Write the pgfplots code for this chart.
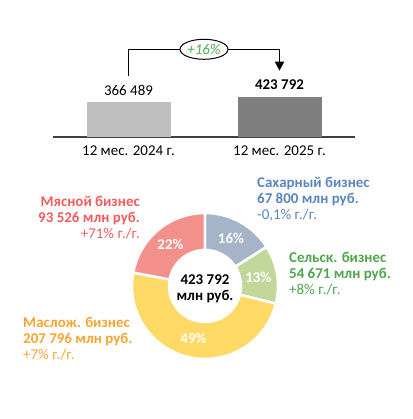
\documentclass[border=0pt]{standalone}
\usepackage{pgfplots}
\pgfplotsset{compat=1.18}
\usepackage{pgfplotstable}
\usetikzlibrary{arrows.meta,shapes.geometric}
\usepackage{fontspec}
\setmainfont{Carlito}
\definecolor{barA}{HTML}{BFBFBF}
\definecolor{barB}{HTML}{7F7F7F}
\definecolor{cSugar}{HTML}{A6B4C9}
\definecolor{cAgro}{HTML}{C4D79B}
\definecolor{cOil}{HTML}{FFD966}
\definecolor{cMeat}{HTML}{F4908C}
\definecolor{tSugar}{HTML}{5A86BE}
\definecolor{tAgro}{HTML}{4EA64A}
\definecolor{tOil}{HTML}{F7A531}
\definecolor{tMeat}{HTML}{F25C5C}
\definecolor{gGreen}{HTML}{4CB050}

\pgfplotstableread{
value pct
67800 16
54671 13
207796 49
93526 22
}\donutdata

\newcommand\fs{\fontsize{15}{17}\selectfont}
\begin{document}
\begin{tikzpicture}
\useasboundingbox (0,0) rectangle (413bp,419bp);
% donut angles from the data
\pgfplotstablegetelem{0}{value}\of\donutdata \let\vA\pgfplotsretval
\pgfplotstablegetelem{1}{value}\of\donutdata \let\vB\pgfplotsretval
\pgfplotstablegetelem{2}{value}\of\donutdata \let\vC\pgfplotsretval
\pgfplotstablegetelem{3}{value}\of\donutdata \let\vD\pgfplotsretval
\edef\tot{\fpeval{\vA+\vB+\vC+\vD}}
\edef\aA{90}
\edef\aB{\fpeval{round(\aA-360*\vA/\tot,4)}}
\edef\aC{\fpeval{round(\aB-360*\vB/\tot,4)}}
\edef\aD{\fpeval{round(\aC-360*\vC/\tot,4)}}
\edef\aE{\fpeval{round(\aD-360*\vD/\tot,4)}}
\edef\mA{\fpeval{round((\aA+\aB)/2,4)}}
\edef\mB{\fpeval{round((\aB+\aC)/2,4)}}
\edef\mC{\fpeval{round((\aC+\aD)/2,4)}}
\edef\mD{\fpeval{round((\aD+\aE)/2,4)}}

% ---------- top bars ----------
\begin{axis}[
  at={(53bp,282bp)}, anchor=south west,
  width=302bp, height=47.2bp, scale only axis,
  xmin=-0.5, xmax=1.5, ymin=0, ymax=500000,
  axis x line*=bottom, axis y line=none,
  x axis line style={-, draw=black!75, line width=1.5bp},
  xtick={0,1}, xticklabels={12 мес. 2024 г.,12 мес. 2025 г.},
  major tick length=0pt,
  xticklabel style={font=\fs, anchor=base, yshift=-18.5bp, inner sep=0pt},
  ytick=\empty,
  ybar, bar width=84bp, clip=false,
]
\addplot[fill=barA, draw=none, bar shift=0pt] coordinates {(0,366489)};
\addplot[fill=barB, draw=none, bar shift=0pt] coordinates {(1,423792)};
\node[font=\fs, anchor=base, inner sep=0pt, yshift=7bp] at (axis cs:0,366489) {366 489};
\node[font=\fs\bfseries, anchor=base, inner sep=0pt, yshift=7bp] at (axis cs:1,423792) {423 792};
\draw[line width=1.5bp, -{Triangle[width=9bp,length=9bp]}]
  (axis cs:0,646186) |- (axis cs:1,929023) -- (axis cs:1,702330);
\node[draw, ellipse, line width=1bp, fill=white, minimum width=48bp, minimum height=20bp,
  inner sep=0pt, font=\fs\itshape, text=gGreen] at (axis cs:0.5,929023) {+16\%};
\end{axis}

% ---------- donut ----------
\begin{axis}[
  at={(125bp,53bp)}, anchor=south west,
  x=1bp, y=1bp, scale only axis,
  xmin=-80, xmax=80, ymin=-80, ymax=80,
  hide axis, clip=false,
]
\filldraw[fill=cSugar, draw=white, line width=2.5bp] (axis cs:0,0) ++(\aA:73bp)
  arc[start angle=\aA, end angle=\aB, radius=73bp] -- ++(\aB+180:37bp)
  arc[start angle=\aB, end angle=\aA, radius=36bp] -- cycle;
\filldraw[fill=cAgro, draw=white, line width=2.5bp] (axis cs:0,0) ++(\aB:73bp)
  arc[start angle=\aB, end angle=\aC, radius=73bp] -- ++(\aC+180:37bp)
  arc[start angle=\aC, end angle=\aB, radius=36bp] -- cycle;
\filldraw[fill=cOil, draw=white, line width=2.5bp] (axis cs:0,0) ++(\aC:73bp)
  arc[start angle=\aC, end angle=\aD, radius=73bp] -- ++(\aD+180:37bp)
  arc[start angle=\aD, end angle=\aC, radius=36bp] -- cycle;
\filldraw[fill=cMeat, draw=white, line width=2.5bp] (axis cs:0,0) ++(\aD:73bp)
  arc[start angle=\aD, end angle=\aE, radius=73bp] -- ++(\aE+180:37bp)
  arc[start angle=\aE, end angle=\aD, radius=36bp] -- cycle;
% percent labels
\node[font=\fs\bfseries, text=white] at (axis cs:{\fpeval{54*cosd(\mA)}},{\fpeval{54*sind(\mA)}}) {16\%};
\node[font=\fs\bfseries, text=white] at (axis cs:{\fpeval{54*cosd(\mB)}},{\fpeval{54*sind(\mB)}}) {13\%};
\node[font=\fs\bfseries, text=white] at (axis cs:{\fpeval{54*cosd(\mC)}},{\fpeval{54*sind(\mC)}}) {49\%};
\node[font=\fs\bfseries, text=white] at (axis cs:{\fpeval{54*cosd(\mD)}},{\fpeval{54*sind(\mD)}}) {22\%};
% centre
\node[font=\fs\bfseries, anchor=base, inner sep=0pt] at (axis cs:0,2) {423 792};
\node[font=\fs\bfseries, anchor=base, inner sep=0pt] at (axis cs:0,-14) {млн руб.};
% Meat
\node[font=\fs\bfseries, text=tMeat, anchor=base east, inner sep=0pt] at (axis cs:-65,80) {Мясной бизнес};
\node[font=\fs\bfseries, text=tMeat, anchor=base east, inner sep=0pt] at (axis cs:-65,64) {93 526 млн руб.};
\node[font=\fs, text=tMeat, anchor=base east, inner sep=0pt] at (axis cs:-65,48) {+71\% г./г.};
% Sugar
\node[font=\fs\bfseries, text=tSugar, anchor=base west, inner sep=0pt] at (axis cs:52,99) {Сахарный бизнес};
\node[font=\fs\bfseries, text=tSugar, anchor=base west, inner sep=0pt] at (axis cs:52,83) {67 800 млн руб.};
\node[font=\fs, text=tSugar, anchor=base west, inner sep=0pt] at (axis cs:52,67) {-0,1\% г./г.};
% Agro
\node[font=\fs\bfseries, text=tAgro, anchor=base west, inner sep=0pt] at (axis cs:84,24) {Сельск. бизнес};
\node[font=\fs\bfseries, text=tAgro, anchor=base west, inner sep=0pt] at (axis cs:84,8) {54 671 млн руб.};
\node[font=\fs, text=tAgro, anchor=base west, inner sep=0pt] at (axis cs:84,-8) {+8\% г./г.};
% Oil
\node[font=\fs\bfseries, text=tOil, anchor=base west, inner sep=0pt] at (axis cs:-182,-41.5) {Маслож. бизнес};
\node[font=\fs\bfseries, text=tOil, anchor=base west, inner sep=0pt] at (axis cs:-182,-57.5) {207 796 млн руб.};
\node[font=\fs, text=tOil, anchor=base west, inner sep=0pt] at (axis cs:-182,-73.5) {+7\% г./г.};
\end{axis}
\end{tikzpicture}
\end{document}
